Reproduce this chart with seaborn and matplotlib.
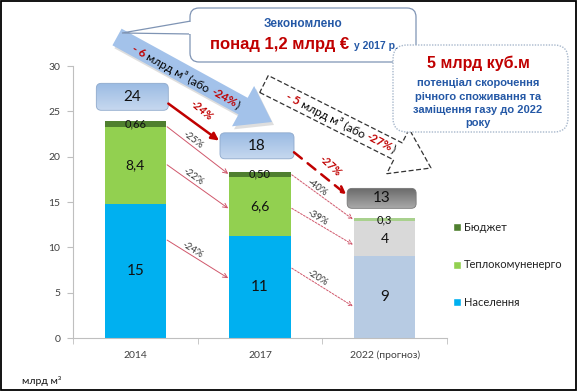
import numpy as np
import pandas as pd
import seaborn as sns
import matplotlib.pyplot as plt
from matplotlib.patches import Polygon, FancyBboxPatch, Rectangle, Patch
from matplotlib.colors import LinearSegmentedColormap

# data (billion m3)
years = ["2014", "2017", "2022 (прогноз)"]
naselennia = [14.8, 11.2, 9.0]
teplo = [8.5, 6.6, 3.9]
biudzhet = [0.66, 0.5, 0.3]
nas_lbl = ["15", "11", "9"]
tep_lbl = ["8,4", "6,6", "4"]
bud_lbl = ["0,66", "0,50", "0,3"]
total_lbl = ["24", "18", "13"]
series = ["Бюджет", "Теплокомуненерго", "Населення"]
chg_14_17 = ["-25%", "-22%", "-24%"]
chg_17_22 = ["-40%", "-39%", "-20%"]
chg_total = ["-24%", "-27%"]

# colours
c_nas = ["#00B0F0", "#00B0F0", "#B7CBE3"]
c_tep = ["#92D050", "#92D050", "#D9D9D9"]
c_bud = ["#4F7F2F", "#4F7F2F", "#A9D18E"]
RED = "#C00000"
BLUE_TXT = "#2458A6"

W, H = 577, 391
sns.set_style("white")
plt.rcParams['font.family'] = ['Lato', 'Noto Sans', 'DejaVu Sans']

fig = plt.figure(figsize=(W / 100, H / 100), dpi=100)
ax = fig.add_axes([73 / W, 1 - 338 / H, 374 / W, 272 / H])

df = pd.DataFrame({"year": years, "nas": naselennia, "tep": teplo, "bud": biudzhet})
df["c2"] = df.nas + df.tep
df["c3"] = df.c2 + df.bud
# stacked bars: draw cumulative totals, lower layers on top
for col, pal in [("c3", c_bud), ("c2", c_tep), ("nas", c_nas)]:
    sns.barplot(data=df, x="year", y=col, hue="year", palette=pal, legend=False,
                width=0.49, saturation=1, linewidth=0, errorbar=None, ax=ax)

ax.set_xlim(-0.5, 2.5)
ax.set_ylim(0, 30)
ax.set_yticks(range(0, 31, 5))
ax.set_xlabel("")
ax.set_ylabel("")
sns.despine(ax=ax)
for s in ["left", "bottom"]:
    ax.spines[s].set_color("#BFBFBF")
    ax.spines[s].set_linewidth(0.8)
ax.tick_params(axis="y", left=True, length=4, color="#BFBFBF", labelsize=7.5,
               labelcolor="#404040", pad=5)
ax.tick_params(axis="x", which="major", length=0, labelsize=7.5, labelcolor="#404040", pad=9)
ax.set_xticks([-0.5, 0.5, 1.5, 2.5], minor=True)
ax.tick_params(axis="x", which="minor", bottom=True, length=4, color="#BFBFBF")

# segment labels
for i in range(3):
    n, t, b = naselennia[i], teplo[i], biudzhet[i]
    ax.text(i, n / 2, nas_lbl[i], ha="center", va="center", fontsize=11, color="#111111")
    ax.text(i, n + t / 2, tep_lbl[i], ha="center", va="center", fontsize=10, color="#111111")
    ax.text(i, n + t + b / 2, bud_lbl[i], ha="center", va="center", fontsize=8, color="#111111")

# overlay in pixel coordinates
ov = fig.add_axes([0, 0, 1, 1], zorder=5)
ov.set_xlim(0, W)
ov.set_ylim(H, 0)
ov.axis("off")
ov.patch.set_alpha(0)


def d2p(x, y):
    X, Y = ax.transData.transform((x, y))
    return X, H - Y


def arrow_pts(x0, y0, x1, y1, w, hw, hl):
    d = np.array([x1 - x0, y1 - y0], float)
    L = np.hypot(*d)
    u = d / L
    n = np.array([-u[1], u[0]])
    p0 = np.array([x0, y0], float)
    b = p0 + u * (L - hl)
    return np.array([p0 + n * w / 2, b + n * w / 2, b + n * hw / 2, [x1, y1],
                     b - n * hw / 2, b - n * w / 2, p0 - n * w / 2])


renderer = fig.canvas.get_renderer()


def twidth(s, size, weight):
    t = ov.text(0, 0, s, fontsize=size, weight=weight)
    w = t.get_window_extent(renderer).width
    t.remove()
    return w


def chain_text(x, y, pieces, angle, va="center_baseline"):
    # pieces: (text, color, size, weight, space_after)
    widths = []
    for s, c, sz, wg, sp in pieces:
        w = twidth(s, sz, wg)
        if sp:
            w += twidth("a a", sz, wg) - twidth("aa", sz, wg)
        widths.append(w)
    a = np.radians(angle)
    u = np.array([np.cos(a), np.sin(a)])
    pos = np.array([x, y]) - u * sum(widths) / 2
    for (s, c, sz, wg, sp), w in zip(pieces, widths):
        ov.text(pos[0], pos[1], s, color=c, fontsize=sz, weight=wg, rotation=-angle,
                rotation_mode="anchor", ha="left", va=va)
        pos = pos + u * w


# big blue arrow
pts = arrow_pts(117, 37, 272, 122, 19, 46, 33)
ov.add_patch(Polygon(pts + [2, 3], closed=True, fc="#7F7F7F", ec="none", alpha=0.25))
ov.add_patch(Polygon(pts, closed=True, fc="#A3C2EA", ec="none"))
chain_text(186, 76, [("- 6", RED, 8.5, "bold", True), ("млрд м³ (або", "black", 8.5, "normal", True),
                     ("-24%", RED, 8.5, "bold", False), (")", "black", 8.5, "normal", False)],
           np.degrees(np.arctan2(85, 155)))

# dashed outline arrow
pts2 = arrow_pts(264, 84, 431, 168, 19, 50, 37)
ov.add_patch(Polygon(pts2, closed=True, fc="none", ec="#333333", lw=0.9, ls=(0, (4, 2))))
chain_text(341, 122, [("- 5", RED, 8.5, "bold", True), ("млрд м³ (або", "black", 8.5, "normal", True),
                      ("-27%", RED, 8.5, "bold", False), (")", "black", 8.5, "normal", False)],
           np.degrees(np.arctan2(84, 167)))

# top callout
ov.add_patch(Polygon([(191, 21), (122, 33), (191, 34)], closed=True, fc="white", ec="#7F94B4", lw=0.9))
ov.add_patch(FancyBboxPatch((190, 8), 226, 54, boxstyle="round,pad=0,rounding_size=9",
                            fc="white", ec="#7F94B4", lw=0.9))
ov.add_patch(Rectangle((189.2, 22), 2.5, 11.5, fc="white", ec="none"))
ov.text(303, 24, "Зекономлено", ha="center", va="center", fontsize=8.5, weight="bold",
        color=BLUE_TXT, family="Liberation Sans")
plt.rcParams['font.family'] = ['Liberation Sans', 'DejaVu Sans']
chain_text(304, 49, [("понад 1,2 млрд €", RED, 12, "bold", True),
                     ("у 2017 р.", BLUE_TXT, 7.5, "bold", False)], 0, va="baseline")

# right callout
ov.add_patch(FancyBboxPatch((393, 45), 175, 87, boxstyle="round,pad=0,rounding_size=14",
                            fc="white", ec="#A8B8CC", lw=1, ls=(0, (1, 1))))
ov.text(478, 63, "5 млрд куб.м", ha="center", va="center", fontsize=11.5, weight="bold", color=RED)
for k, line in enumerate(["потенціал скорочення", "річного споживання та",
                          "заміщення газу до 2022", "року"]):
    ov.text(478, 83 + k * 13.5, line, ha="center", va="center", fontsize=8, weight="bold", color=BLUE_TXT)
plt.rcParams['font.family'] = ['Lato', 'Noto Sans', 'DejaVu Sans']

# total boxes above the bars
box_y = [26.6, 21.2, 15.4]
box_wh = [(72, 27), (74, 26), (69, 20)]
box_cols = [("#9BBBE3", "#C6D8EF"), ("#9BBBE3", "#C6D8EF"), ("#6A6A6A", "#A8A8A8")]
box_geo = []
for i in range(3):
    cx, cy = d2p(i, box_y[i])
    cx -= 3
    w, h = box_wh[i]
    patch = FancyBboxPatch((cx - w / 2, cy - h / 2), w, h, boxstyle="round,pad=0,rounding_size=5",
                           fc="none", ec="#8EA9CC" if i < 2 else "#777777", lw=0.6, zorder=3)
    ov.add_patch(patch)
    cmap = LinearSegmentedColormap.from_list("g", list(box_cols[i]))
    im = ov.imshow(np.linspace(0, 1, 50).reshape(-1, 1), cmap=cmap, aspect="auto",
                   extent=(cx - w / 2, cx + w / 2, cy + h / 2, cy - h / 2), zorder=2.9)
    im.set_clip_path(patch)
    ov.text(cx, cy, total_lbl[i], ha="center", va="center", fontsize=11, color="#111111", zorder=4)
    box_geo.append((cx, cy, w, h))

# red arrows between totals
lab_off = [(8, -12), (10, -7)]
for i in range(2):
    cx0, cy0, w0, h0 = box_geo[i]
    cx1, cy1, w1, h1 = box_geo[i + 1]
    p0 = (cx0 + w0 / 2, cy0 + h0 * 0.25)
    p1 = (cx1 - w1 / 2 - 1, cy1 - h1 * 0.2)
    ov.annotate("", xy=p1, xytext=p0,
                arrowprops=dict(arrowstyle="-|>" if i == 0 else "->", color=RED, lw=1.8,
                                ls="-" if i == 0 else (0, (4, 3)), mutation_scale=11,
                                shrinkA=0, shrinkB=0))
    ang = np.degrees(np.arctan2(p1[1] - p0[1], p1[0] - p0[0]))
    mx, my = (p0[0] + p1[0]) / 2, (p0[1] + p1[1]) / 2
    ov.text(mx + lab_off[i][0], my + lab_off[i][1], chg_total[i], color=RED, fontsize=8,
            weight="bold", style="italic", rotation=-ang - 3, ha="center", va="center",
            rotation_mode="anchor")

# thin arrows per segment
arr_14 = [(23.3, 18.1), (19.1, 14.3), (10.8, 6.6)]
arr_17 = [(18.0, 13.1), (14.3, 10.3), (7.7, 3.5)]
for i0, pairs, labels, ls in [(0, arr_14, chg_14_17, "-"), (1, arr_17, chg_17_22, (0, (2, 1.5)))]:
    for (ya, yb), lab in zip(pairs, labels):
        p0 = d2p(i0 + 0.255, ya)
        p1 = d2p(i0 + 1 - 0.255, yb)
        ov.annotate("", xy=p1, xytext=p0,
                    arrowprops=dict(arrowstyle="->", color="#D0576B", lw=0.7, ls=ls,
                                    mutation_scale=8, shrinkA=0, shrinkB=0))
        ang = np.degrees(np.arctan2(p1[1] - p0[1], p1[0] - p0[0]))
        d = np.array([p1[0] - p0[0], p1[1] - p0[1]])
        u = d / np.hypot(*d)
        n = np.array([u[1], -u[0]])
        c = np.array(p0) + d * 0.37 + n * 5
        ov.text(c[0], c[1], lab, fontsize=7, color="#333333", rotation=-ang,
                ha="center", va="center", rotation_mode="anchor")

# legend
handles = [Patch(fc=c_bud[0]), Patch(fc=c_tep[0]), Patch(fc=c_nas[0])]
fig.legend(handles, series, loc="center left", bbox_to_anchor=(443 / W, 1 - 265 / H), frameon=False,
           fontsize=8, handlelength=0.7, handleheight=0.7, handletextpad=0.3, labelspacing=2.4,
           labelcolor="#222222")

ov.text(22, 381, "млрд м³", fontsize=7.5, va="center", color="#111111")
ov.add_patch(Rectangle((1, 1), W - 2.5, H - 2.5, fill=False, ec="black", lw=1.3))
ov.set_xlim(0, W)
ov.set_ylim(H, 0)

fig.savefig("out.png", dpi=100)
